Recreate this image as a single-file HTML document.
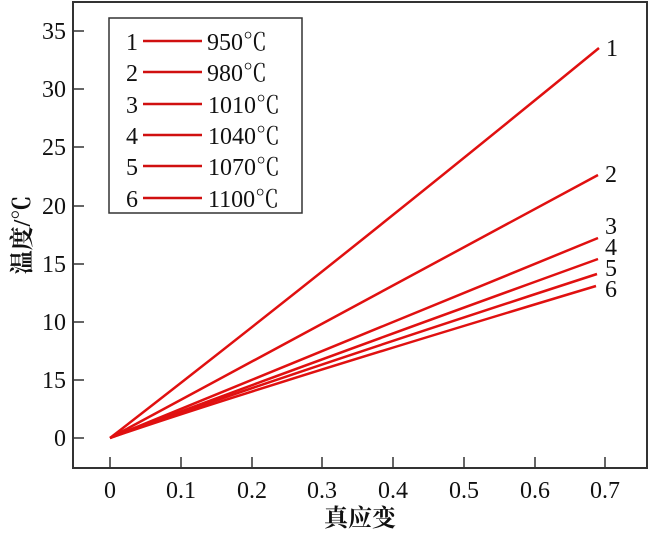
<!DOCTYPE html>
<html><head><meta charset="utf-8"><style>
body{margin:0;background:#fff}
svg text{font-family:"Liberation Serif","Noto Serif CJK SC",serif;fill:#111}
</style></head><body>
<svg width="650" height="531" viewBox="0 0 650 531">
<rect x="0" y="0" width="650" height="531" fill="#fff"/>
<path d="M73,2 H647 V468 H73 Z" fill="none" stroke="#333" stroke-width="2"/>
<g stroke="#333" stroke-width="1.5">
<line x1="73" y1="438" x2="84" y2="438"/><line x1="73" y1="380" x2="84" y2="380"/>
<line x1="73" y1="322" x2="84" y2="322"/><line x1="73" y1="264" x2="84" y2="264"/>
<line x1="73" y1="206" x2="84" y2="206"/><line x1="73" y1="147" x2="84" y2="147"/>
<line x1="73" y1="89" x2="84" y2="89"/><line x1="73" y1="31" x2="84" y2="31"/>
<line x1="110" y1="468" x2="110" y2="457"/><line x1="181" y1="468" x2="181" y2="457"/>
<line x1="252" y1="468" x2="252" y2="457"/><line x1="322" y1="468" x2="322" y2="457"/>
<line x1="393" y1="468" x2="393" y2="457"/><line x1="464" y1="468" x2="464" y2="457"/>
<line x1="535" y1="468" x2="535" y2="457"/><line x1="605" y1="468" x2="605" y2="457"/>
</g>
<g font-size="24" text-anchor="end">
<text x="66" y="446">0</text><text x="66" y="388">15</text><text x="66" y="330">10</text>
<text x="66" y="272">15</text><text x="66" y="214">20</text><text x="66" y="155">25</text>
<text x="66" y="97">30</text><text x="66" y="39">35</text>
</g>
<g font-size="24" text-anchor="middle">
<text x="110" y="498">0</text><text x="181" y="498">0.1</text><text x="252" y="498">0.2</text>
<text x="322" y="498">0.3</text><text x="393" y="498">0.4</text><text x="464" y="498">0.5</text>
<text x="535" y="498">0.6</text><text x="605" y="498">0.7</text>
<text x="360" y="526" font-size="24" font-weight="bold">真应变</text>
</g>
<text transform="translate(30,235) rotate(-90)" font-size="24" font-weight="bold" text-anchor="middle">温度/℃</text>
<g fill="none" stroke="#e01010" stroke-width="2.5">
<path d="M110,438 Q340,260 599,48"/>
<path d="M110,438 L598,175"/>
<path d="M110,438 L598,238"/>
<path d="M110,438 Q250,385 598,259"/>
<path d="M110,438 Q240,390 597,274"/>
<path d="M110,438 Q240,393 596,286"/>
</g>
<g font-size="24">
<text x="606" y="56">1</text><text x="605" y="182">2</text><text x="605" y="234">3</text>
<text x="605" y="255">4</text><text x="605" y="276">5</text><text x="605" y="297">6</text>
</g>
<rect x="109" y="18" width="193" height="195" fill="#fff" stroke="#333" stroke-width="1.5"/>
<g stroke="#d01010" stroke-width="2.5">
<line x1="143" y1="41" x2="202" y2="41"/><line x1="143" y1="72" x2="202" y2="72"/>
<line x1="143" y1="104" x2="202" y2="104"/><line x1="143" y1="135" x2="202" y2="135"/>
<line x1="143" y1="166" x2="202" y2="166"/><line x1="143" y1="198" x2="202" y2="198"/>
</g>
<g font-size="24">
<text x="126" y="50">1</text><text x="126" y="81">2</text><text x="126" y="113">3</text>
<text x="126" y="144">4</text><text x="126" y="175">5</text><text x="126" y="207">6</text>
<text x="207" y="50">950℃</text><text x="207" y="81">980℃</text><text x="208" y="113">1010℃</text>
<text x="208" y="144">1040℃</text><text x="208" y="175">1070℃</text><text x="208" y="207">1100℃</text>
</g>
</svg>
</body></html>
